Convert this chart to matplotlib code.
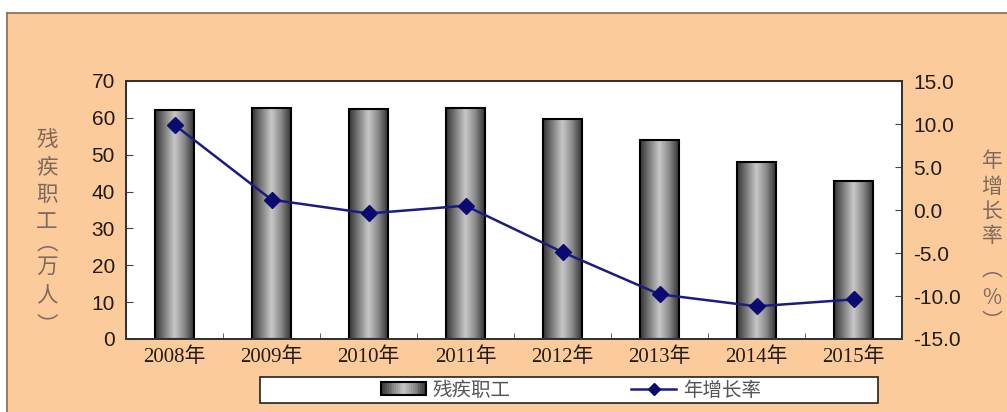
import numpy as np
import matplotlib
matplotlib.use("Agg")
import matplotlib.pyplot as plt
from matplotlib.patches import Rectangle, Patch
from matplotlib.lines import Line2D
from matplotlib.colors import LinearSegmentedColormap
from matplotlib.legend_handler import HandlerBase

years = ["2008年", "2009年", "2010年", "2011年", "2012年", "2013年", "2014年", "2015年"]
workers = [62.0, 62.8, 62.5, 62.8, 59.8, 54.0, 47.9, 43.0]
growth = [9.9, 1.2, -0.4, 0.5, -4.9, -9.8, -11.2, -10.4]
left_ticks = [0, 10, 20, 30, 40, 50, 60, 70]
right_ticks = [-15, -10, -5, 0, 5, 10, 15]
bar_name = "残疾职工"
line_name = "年增长率"
left_label = "残疾职工︵万人︶"
right_label = "年增长率︵%︶"

W, H = 1007, 412
PEACH = "#FCCB9C"
TXT = "#221c18"
LBL = "#7d6a5c"
CJK = ["Noto Sans CJK SC", "DejaVu Sans"]
SERIF = ["Liberation Serif", "Noto Sans CJK SC"]
SANS = ["Liberation Sans", "DejaVu Sans"]

fig = plt.figure(figsize=(W / 100, H / 100), dpi=100, facecolor="white")

# peach chart area with border on top/left
fig.add_artist(Rectangle((7 / W, 0), 1 - 7 / W, (H - 13) / H, transform=fig.transFigure,
                         facecolor=PEACH, edgecolor="none", zorder=-10))
fig.add_artist(Line2D([7 / W, 1], [(H - 13) / H] * 2, transform=fig.transFigure,
                      color="#8a6a48", lw=1.2, zorder=-9))
fig.add_artist(Line2D([7 / W] * 2, [0, (H - 13) / H], transform=fig.transFigure,
                      color="#8a6a48", lw=1.2, zorder=-9))

ax = fig.add_axes([126 / W, (H - 339) / H, 776 / W, 258 / H])
ax.set_facecolor("white")
x = np.arange(len(years))
bars = ax.bar(x, workers, width=0.4, color="none", edgecolor="black", linewidth=1.5, zorder=3)

cmap = LinearSegmentedColormap.from_list(
    "cyl", ["#333333", "#7e7e7e", "#c8c8c8", "#8a8a8a", "#333333"])
grad = np.linspace(0, 1, 256).reshape(1, -1)
for b in bars:
    x0, w, h = b.get_x(), b.get_width(), b.get_height()
    im = ax.imshow(grad, cmap=cmap, aspect="auto", extent=(x0, x0 + w, 0, h), zorder=2,
                   interpolation="bicubic")
    im.set_clip_path(b)

ax.set_xlim(-0.5, len(years) - 0.5)
ax.set_ylim(0, 70)
ax.set_yticks(left_ticks)
ax.set_xticks(x)
ax.set_xticks(np.arange(0.5, len(years) - 0.5, 1), minor=True)
ax.tick_params(axis="x", which="major", length=0, pad=6)
ax.tick_params(axis="x", which="minor", direction="in", length=4, color="#444")
ax.tick_params(axis="y", direction="in", length=5, color="#444", pad=8)
ax.set_xticklabels(years, fontsize=15, family=SERIF, color=TXT)
for t in ax.get_yticklabels():
    t.set_fontsize(15)
    t.set_family(SANS)
    t.set_color(TXT)
for s in ax.spines.values():
    s.set_color("#333")
    s.set_linewidth(1.4)

ax2 = ax.twinx()
ax2.plot(x, growth, color="#1c1c80", lw=1.8, marker="D", markersize=8,
         markerfacecolor="#0a0a70", markeredgecolor="#0a0a70", zorder=5)
ax2.set_ylim(-15, 15)
ax2.set_yticks(right_ticks)
ax2.set_yticklabels([f"{v:.1f}" for v in right_ticks], fontsize=15, family=SANS, color=TXT)
ax2.tick_params(axis="y", direction="in", length=5, color="#444", pad=8)
for s in ax2.spines.values():
    s.set_color("#333")
    s.set_linewidth(1.4)


def vertical_label(text, xc, ys, size):
    """Stack characters vertically at the given pixel centres."""
    for ch, y in zip(text, ys):
        fig.text(xc / W, (H - y) / H, ch, ha="center", va="center",
                 fontsize=size, family=CJK, color=LBL)


vertical_label(left_label, 47, [140, 167.5, 195, 222.5, 243, 267, 295, 325], 15.5)
vertical_label(right_label, 992, [161, 187, 212, 236, 270, 298, 322], 15)


class GradientHandler(HandlerBase):
    def create_artists(self, legend, orig_handle, xdescent, ydescent, width, height,
                       fontsize, trans):
        n = 24
        arts = []
        for i in range(n):
            r = Rectangle((-xdescent + width * i / n, -ydescent), width / n + 0.3, height,
                          facecolor=cmap((i + 0.5) / n), edgecolor="none", transform=trans)
            arts.append(r)
        arts.append(Rectangle((-xdescent, -ydescent), width, height, facecolor="none",
                              edgecolor="black", lw=1.5, transform=trans))
        return arts


# legend box
fig.add_artist(Rectangle((260 / W, (H - 403) / H), 618 / W, 26 / H, transform=fig.transFigure,
                         facecolor="white", edgecolor="#222", lw=1.2))
bar_handle = Patch(facecolor="#9a9a9a", edgecolor="black")
line_handle = Line2D([], [], color="#1c1c80", lw=1.8, marker="D", markersize=6,
                     markerfacecolor="#0a0a70", markeredgecolor="#0a0a70")
leg = fig.legend([bar_handle, line_handle], [bar_name, line_name], loc="center", ncol=2,
                 bbox_to_anchor=(571 / W, (H - 390) / H), frameon=False,
                 prop={"family": CJK, "size": 14}, handlelength=2.3, handleheight=0.6,
                 handletextpad=0.35, columnspacing=6.2, borderpad=0,
                 handler_map={Patch: GradientHandler()})
for t in leg.get_texts():
    t.set_color("#555")

fig.savefig("out.png", dpi=100, facecolor="white")
